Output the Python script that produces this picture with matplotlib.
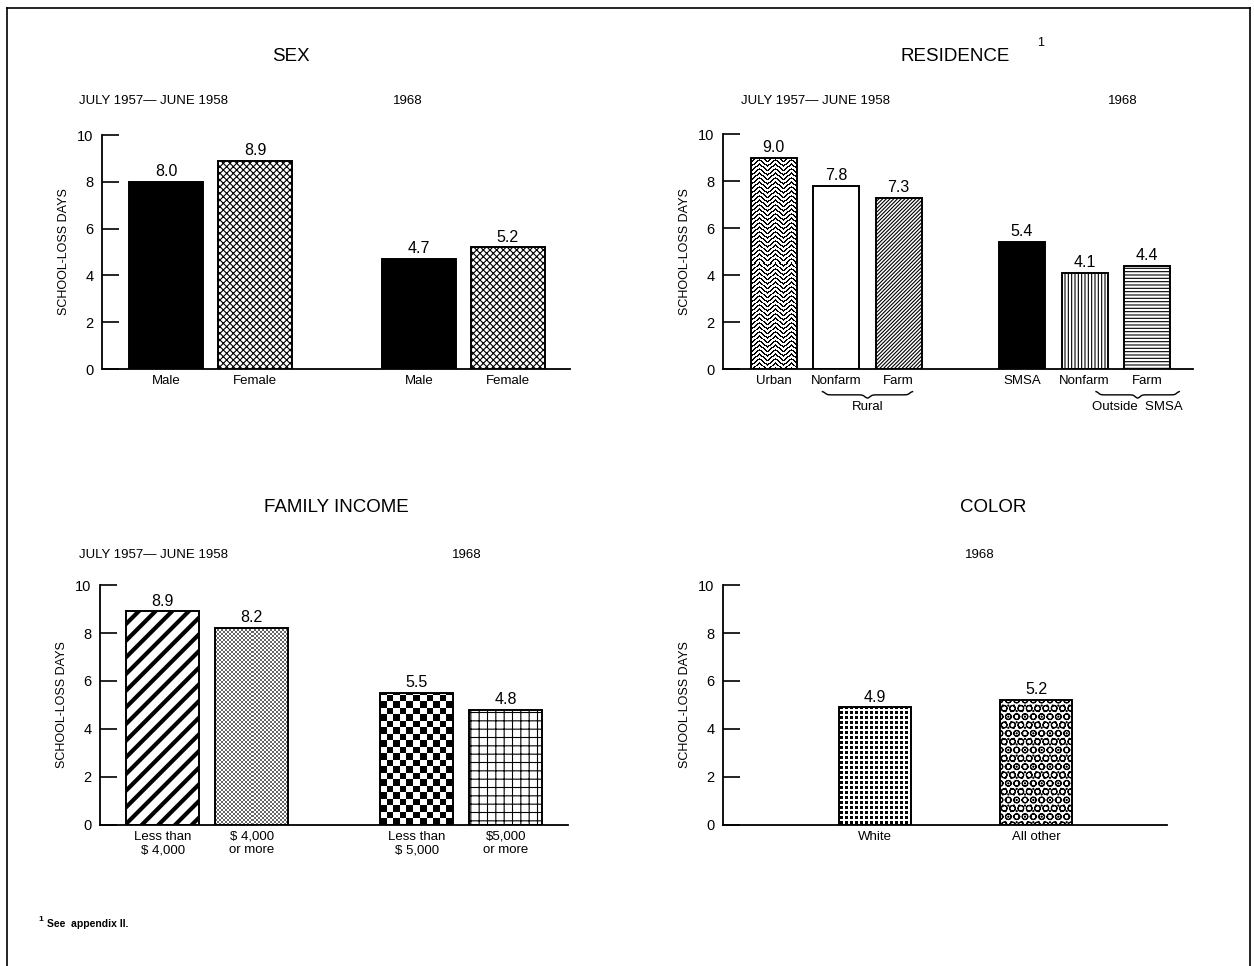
import numpy as np
import matplotlib.pyplot as plt
from matplotlib.lines import Line2D
from matplotlib.transforms import blended_transform_factory

plt.rcParams['font.family'] = ['Liberation Sans', 'DejaVu Sans']
plt.rcParams['hatch.linewidth'] = 0.8

# school-loss days per child
sex_labels = ['Male', 'Female', 'Male', 'Female']
sex_days = [8.0, 8.9, 4.7, 5.2]

res_labels = ['Urban', 'Nonfarm', 'Farm', 'SMSA', 'Nonfarm', 'Farm']
res_days = [9.0, 7.8, 7.3, 5.4, 4.1, 4.4]

inc_labels = ['Less than\n$ 4,000', '$ 4,000\nor more', 'Less than\n$ 5,000', '$5,000\nor more']
inc_days = [8.9, 8.2, 5.5, 4.8]

color_labels = ['White', 'All other']
color_days = [4.9, 5.2]

periods = ['JULY 1957\u2014 JUNE 1958', '1968']

fig = plt.figure(figsize=(12.54, 9.66), dpi=100)


def texture(ax, bar, kind):
    x0, y0 = bar.get_x(), bar.get_y()
    w, h = bar.get_width(), bar.get_height()
    (px0, py0), (px1, py1) = ax.transData.transform([(x0, y0), (x0 + w, y0 + h)])
    nx, ny = int(round(px1 - px0)), int(round(py1 - py0))
    xx, yy = np.meshgrid(np.arange(nx), np.arange(ny))
    dark = 1.0
    if kind == 'zigzag':
        tri = np.abs((xx % 16) - 8)
        mask = ((yy + 0.8 * tri) % 4.5) < 1.7
    elif kind == 'checker':
        mask = ((np.floor(xx / 6.5) + np.floor(yy / 6.5)) % 2) == 0
    elif kind == 'dots':
        mask = ((xx % 5 - 2) ** 2 + (yy % 5 - 2) ** 2) <= 2.0
    else:  # fine halftone
        mask = ((xx // 2 + yy // 2) % 2) == 0
        dark = 0.6
    img = 1.0 - dark * mask
    im = ax.imshow(img, cmap='gray', vmin=0, vmax=1, origin='lower',
                   extent=(x0, x0 + w, y0, y0 + h), aspect='auto',
                   interpolation='nearest', zorder=1.5)
    im.set_clip_path(bar)


def brace(ax, xa, xb, y, depth, text):
    tr = blended_transform_factory(ax.transData, ax.transAxes)
    s = np.linspace(0, 1, 60)
    g = 1 / (1 + np.exp(-40 * (s - 0.06))) + 1 / (1 + np.exp(-40 * (s - 0.94)))
    xs = np.concatenate([xa + s * (xb - xa) / 2, xb - s[::-1] * (xb - xa) / 2])
    ys = np.concatenate([y - depth * g / 2, y - depth * g[::-1] / 2])
    ax.plot(xs, ys, color='black', lw=1, transform=tr, clip_on=False)
    ax.text((xa + xb) / 2, y - depth - 0.012, text, transform=tr,
            ha='center', va='top', fontsize=9.5)


def panel(rect, pos, days, labels, styles, width, xmax):
    ax = fig.add_axes(rect)
    ax.set_xlim(0, xmax)
    ax.set_ylim(0, 10)
    bars = ax.bar(pos, days, width=width, color='white', edgecolor='black',
                  linewidth=1.4, zorder=2)
    for b, st in zip(bars, styles):
        kind, arg = st
        if kind == 'solid':
            b.set_facecolor('black')
        elif kind == 'hatch':
            b.set_hatch(arg)
        elif kind == 'thick':
            b.set_hatch(arg)
            if hasattr(b, 'set_hatch_linewidth'):
                b.set_hatch_linewidth(3)
        elif kind == 'tex':
            b.set_facecolor('none')
            texture(ax, b, arg)
    ax.set_xlim(0, xmax)
    ax.set_ylim(0, 10)
    ax.bar_label(bars, fmt='%.1f', padding=2, fontsize=11.5)
    ax.set_xticks(pos)
    ax.set_xticklabels(labels)
    ax.set_yticks([0, 2, 4, 6, 8, 10])
    ax.tick_params(axis='y', direction='in', length=12, width=1.2, pad=6, labelsize=10.5)
    ax.tick_params(axis='x', length=0, pad=4, labelsize=9.5)
    ax.spines[['top', 'right']].set_visible(False)
    ax.spines['left'].set_linewidth(1.3)
    ax.spines['bottom'].set_linewidth(1.3)
    ax.set_ylabel('SCHOOL-LOSS DAYS', fontsize=9, labelpad=5)
    return ax


# SEX
step = 1.2
pos = [0.87 + i * step for i in range(2)] + [4.28 + i * step for i in range(2)]
panel([0.0813, 0.6180, 0.3732, 0.2422], pos, sex_days, sex_labels,
      [('solid', None), ('hatch', 'xxxxx'), ('solid', None), ('hatch', 'xxxxx')],
      1.0, 6.32)

# RESIDENCE
step = 1.36
pos = [1.10 + i * step for i in range(3)] + [6.50 + i * step for i in range(3)]
ax = panel([0.5766, 0.6180, 0.3748, 0.2432], pos, res_days, res_labels,
           [('tex', 'zigzag'), ('empty', None), ('hatch', '/////////'),
            ('solid', None), ('hatch', '|||||'), ('hatch', '-----')],
           1.0, 10.22)
brace(ax, pos[1] - 0.3, pos[2] + 0.3, -0.095, 0.03, 'Rural')
brace(ax, pos[4] + 0.25, pos[5] + 0.7, -0.095, 0.03, 'Outside  SMSA')

# FAMILY INCOME
step = 1.22
pos = [0.86 + i * step for i in range(2)] + [4.34 + i * step for i in range(2)]
panel([0.0797, 0.1460, 0.3732, 0.2484], pos, inc_days, inc_labels,
      [('thick', '//'), ('tex', 'fine'), ('tex', 'checker'), ('hatch', '++')],
      1.0, 6.41)

# COLOR
pos = [2.11, 2.11 + 2.24]
panel([0.5766, 0.1460, 0.3541, 0.2484], pos, color_days, color_labels,
      [('tex', 'dots'), ('hatch', 'OO...')], 1.0, 6.17)

# titles
fig.text(0.232, 0.941, 'SEX', ha='center', va='center', fontsize=13.5)
fig.text(0.7616, 0.941, 'RESIDENCE', ha='center', va='center', fontsize=13.5)
fig.text(0.830, 0.955, '1', ha='center', va='center', fontsize=9)
fig.text(0.268, 0.475, 'FAMILY INCOME', ha='center', va='center', fontsize=13.5)
fig.text(0.792, 0.475, 'COLOR', ha='center', va='center', fontsize=13.5)

fig.text(0.1228, 0.8954, periods[0], ha='center', va='center', fontsize=9.5)
fig.text(0.3254, 0.8954, periods[1], ha='center', va='center', fontsize=9.5)
fig.text(0.650, 0.8954, periods[0], ha='center', va='center', fontsize=9.5)
fig.text(0.8955, 0.8954, periods[1], ha='center', va='center', fontsize=9.5)
fig.text(0.1228, 0.4255, periods[0], ha='center', va='center', fontsize=9.5)
fig.text(0.3724, 0.4255, periods[1], ha='center', va='center', fontsize=9.5)
fig.text(0.7815, 0.4255, periods[1], ha='center', va='center', fontsize=9.5)

# footnote
fig.text(0.0325, 0.048, '1', ha='center', va='center', fontsize=6, weight='bold')
fig.text(0.0375, 0.0435, 'See  appendix II.', ha='left', va='center', fontsize=7.5, weight='bold')

# frame
for xs, ys in [([0.0056, 0.9968], [0.9917, 0.9917]),
               ([0.0056, 0.0056], [0.0, 0.9917]),
               ([0.9968, 0.9968], [0.0, 0.9917])]:
    fig.add_artist(Line2D(xs, ys, color='black', lw=1.2))

fig.savefig('out.png', dpi=100)
